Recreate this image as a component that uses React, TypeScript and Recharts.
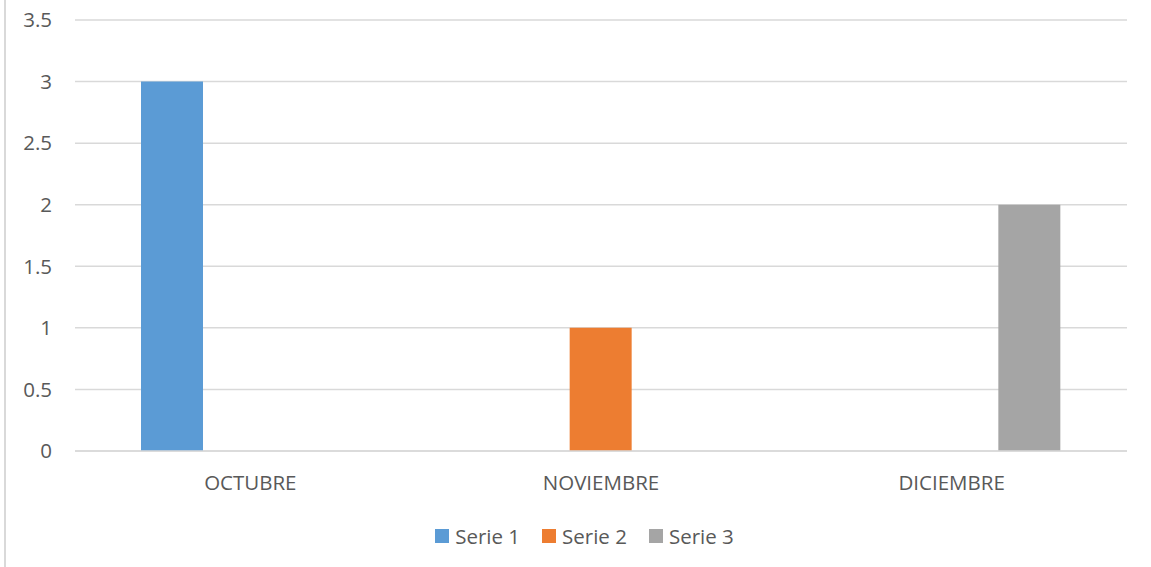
import React from 'react';
import { BarChart, Bar, XAxis, YAxis, CartesianGrid, Legend } from 'recharts';

const categories = ['OCTUBRE', 'NOVIEMBRE', 'DICIEMBRE'];
const serie1 = [3, 0, 0];
const serie2 = [0, 1, 0];
const serie3 = [0, 0, 2];
const yTicks = [0, 0.5, 1, 1.5, 2, 2.5, 3, 3.5];
const seriesNames = ['Serie 1', 'Serie 2', 'Serie 3'];
const seriesColors = ['#5B9BD5', '#ED7D31', '#A5A5A5'];

const data = categories.map((c, i) => ({
  name: c,
  s1: serie1[i],
  s2: serie2[i],
  s3: serie3[i],
}));

const FONT = '"Open Sans", sans-serif';
const TEXT = '#595959';
const FS = 20.5;

const LegendContent = (props: any) => {
  const payload = props.payload || [];
  return (
    <div
      style={{
        height: 60,
        display: 'flex',
        justifyContent: 'center',
        alignItems: 'flex-start',
        paddingLeft: 42,
        boxSizing: 'border-box',
        fontFamily: FONT,
        fontSize: FS,
        color: TEXT,
      }}
    >
      {payload.map((p: any, i: number) => (
        <div
          key={i}
          style={{
            display: 'flex',
            alignItems: 'center',
            marginTop: 18,
            marginRight: i < payload.length - 1 ? 22 : 0,
            height: 22,
          }}
        >
          <span
            style={{
              display: 'inline-block',
              width: 14,
              height: 14,
              background: p.color,
              marginRight: 6,
            }}
          />
          <span style={{ lineHeight: '22px' }}>{p.value}</span>
        </div>
      ))}
    </div>
  );
};

export default function App() {
  return (
    <div
      style={{
        position: 'absolute',
        left: 0,
        top: 0,
        width: 1151,
        height: 567,
        background: '#ffffff',
      }}
    >
      <div
        style={{
          position: 'absolute',
          left: 4,
          top: 0,
          width: 2,
          height: 567,
          background: '#d9d9d9',
        }}
      />
      <BarChart
        width={1151}
        height={567}
        data={data}
        margin={{ top: 20, right: 24, left: 0, bottom: 0 }}
        barSize={62}
        barGap={16}
      >
        <CartesianGrid horizontal vertical={false} stroke="#d9d9d9" strokeWidth={1.5} />
        <XAxis
          dataKey="name"
          height={56}
          axisLine={{ stroke: '#d9d9d9', strokeWidth: 1.5 }}
          tickLine={false}
          tickSize={0}
          tickMargin={24}
          tick={{ fill: TEXT, fontSize: FS, fontFamily: FONT }}
        />
        <YAxis
          width={75}
          domain={[0, 3.5]}
          ticks={yTicks}
          interval={0}
          axisLine={false}
          tickLine={false}
          tickSize={0}
          tickMargin={23}
          tick={{ fill: TEXT, fontSize: FS, fontFamily: FONT }}
        />
        <Legend
          verticalAlign="bottom"
          align="center"
          height={60}
          content={<LegendContent />}
        />
        <Bar dataKey="s1" name={seriesNames[0]} fill={seriesColors[0]} isAnimationActive={false} />
        <Bar dataKey="s2" name={seriesNames[1]} fill={seriesColors[1]} isAnimationActive={false} />
        <Bar dataKey="s3" name={seriesNames[2]} fill={seriesColors[2]} isAnimationActive={false} />
      </BarChart>
    </div>
  );
}
